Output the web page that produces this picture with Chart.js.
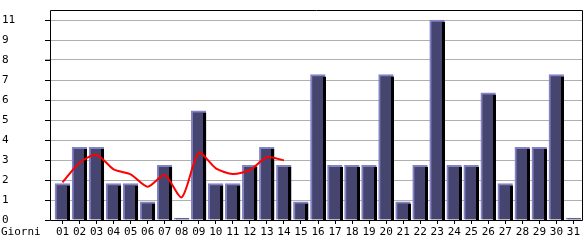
<!DOCTYPE html>
<html>
<head>
<meta charset="utf-8">
<script src="https://cdn.jsdelivr.net/npm/chart.js@4/dist/chart.umd.min.js"></script>
<style>
  html, body { margin: 0; padding: 0; background: #ffffff; }
  #wrap { width: 585px; height: 240px; position: relative; }
</style>
</head>
<body>
<div id="wrap"><canvas id="c" width="585" height="240"></canvas></div>
<script>
const days = ['01','02','03','04','05','06','07','08','09','10','11','12','13','14','15','16','17','18','19','20','21','22','23','24','25','26','27','28','29','30','31'];
const visits = [2,4,4,2,2,1,3,0,6,2,2,3,4,3,1,8,3,3,3,8,1,3,11,3,3,7,2,4,4,8,0];
const trend = [2.07,3.15,3.58,2.79,2.51,1.83,2.47,1.25,3.70,2.84,2.53,2.75,3.45,3.28];
const yTickValues = [0,1.1,2.2,3.3,4.4,5.5,6.6,7.7,8.8,9.9,11];
const yTickLabels = ['0','1','2','3','4','5','6','7','8','9','11'];
const axisTitle = 'Giorni';

const FONT = { family: "'DejaVu Sans Mono', monospace", size: 11 };

const decor = {
  id: 'decor',
  afterDatasetDraw(chart, args) {
    if (args.index !== 0) return;
    const ctx = chart.ctx;
    ctx.save();
    ctx.fillStyle = '#000000';
    args.meta.data.forEach(bar => {
      const p = bar.getProps(['x','y','base','width'], true);
      const right = Math.round(p.x + p.width / 2);
      const top = Math.round(p.y) + 2;
      const h = Math.round(p.base) - top;
      if (h > 0) ctx.fillRect(right - 3, top, 3, h);
    });
    ctx.restore();
  },
  afterDraw(chart) {
    const ctx = chart.ctx;
    const a = chart.chartArea;
    const ys = chart.scales.y;
    ctx.save();
    ctx.strokeStyle = '#000000';
    ctx.lineWidth = 1;
    ctx.beginPath();
    ctx.moveTo(50.5, Math.round(a.bottom) + 0.5);
    ctx.lineTo(50.5, Math.round(a.top) + 0.5);
    ctx.lineTo(Math.round(a.right) + 0.5, Math.round(a.top) + 0.5);
    ctx.lineTo(Math.round(a.right) + 0.5, Math.round(a.bottom) + 0.5);
    ctx.lineTo(50.5, Math.round(a.bottom) + 0.5);
    yTickValues.forEach(v => {
      const py = Math.round(ys.getPixelForValue(v)) + 0.5;
      ctx.moveTo(45, py);
      ctx.lineTo(50, py);
    });
    ctx.stroke();
    ctx.fillStyle = '#000000';
    ctx.font = FONT.size + 'px ' + FONT.family;
    ctx.textBaseline = 'middle';
    ctx.textAlign = 'left';
    ctx.fillText(axisTitle, 1, 232);
    ctx.restore();
  }
};

new Chart(document.getElementById('c'), {
  data: {
    labels: days,
    datasets: [
      {
        type: 'bar',
        data: visits,
        backgroundColor: '#45456f',
        borderColor: '#8282c4',
        borderWidth: { left: 2, top: 2, right: 0, bottom: 0 },
        borderSkipped: false,
        barThickness: 15,
        minBarLength: 2,
        order: 1
      },
      {
        type: 'line',
        data: trend,
        borderColor: '#ff0000',
        borderWidth: 2,
        pointRadius: 0,
        tension: 0.25,
        fill: false,
        order: 0
      }
    ]
  },
  options: {
    responsive: false,
    animation: false,
    events: [],
    layout: { padding: { top: 10, right: 3, left: 2, bottom: 0 } },
    plugins: { legend: { display: false }, tooltip: { enabled: false }, title: { display: false } },
    scales: {
      x: {
        type: 'category',
        offset: true,
        grid: { display: true, drawOnChartArea: false, offset: false, tickLength: 4, color: '#000000' },
        border: { display: false },
        ticks: { autoSkip: false, maxRotation: 0, minRotation: 0, padding: 2, color: '#000000', font: FONT },
        afterFit(s) { s.height = 20; }
      },
      y: {
        type: 'linear',
        min: 0,
        max: 11.55,
        grid: { color: (c) => c.tick && c.tick.value === 0 ? 'rgba(0,0,0,0)' : '#b0b0b0', tickLength: 9, drawTicks: true },
        border: { display: false },
        ticks: {
          crossAlign: 'far',
          color: '#000000',
          font: FONT,
          callback: (v, i) => yTickLabels[i]
        },
        afterBuildTicks(s) { s.ticks = yTickValues.map(v => ({ value: v })); },
        afterFit(s) { s.width = 52; }
      }
    }
  },
  plugins: [decor]
});
</script>
</body>
</html>
